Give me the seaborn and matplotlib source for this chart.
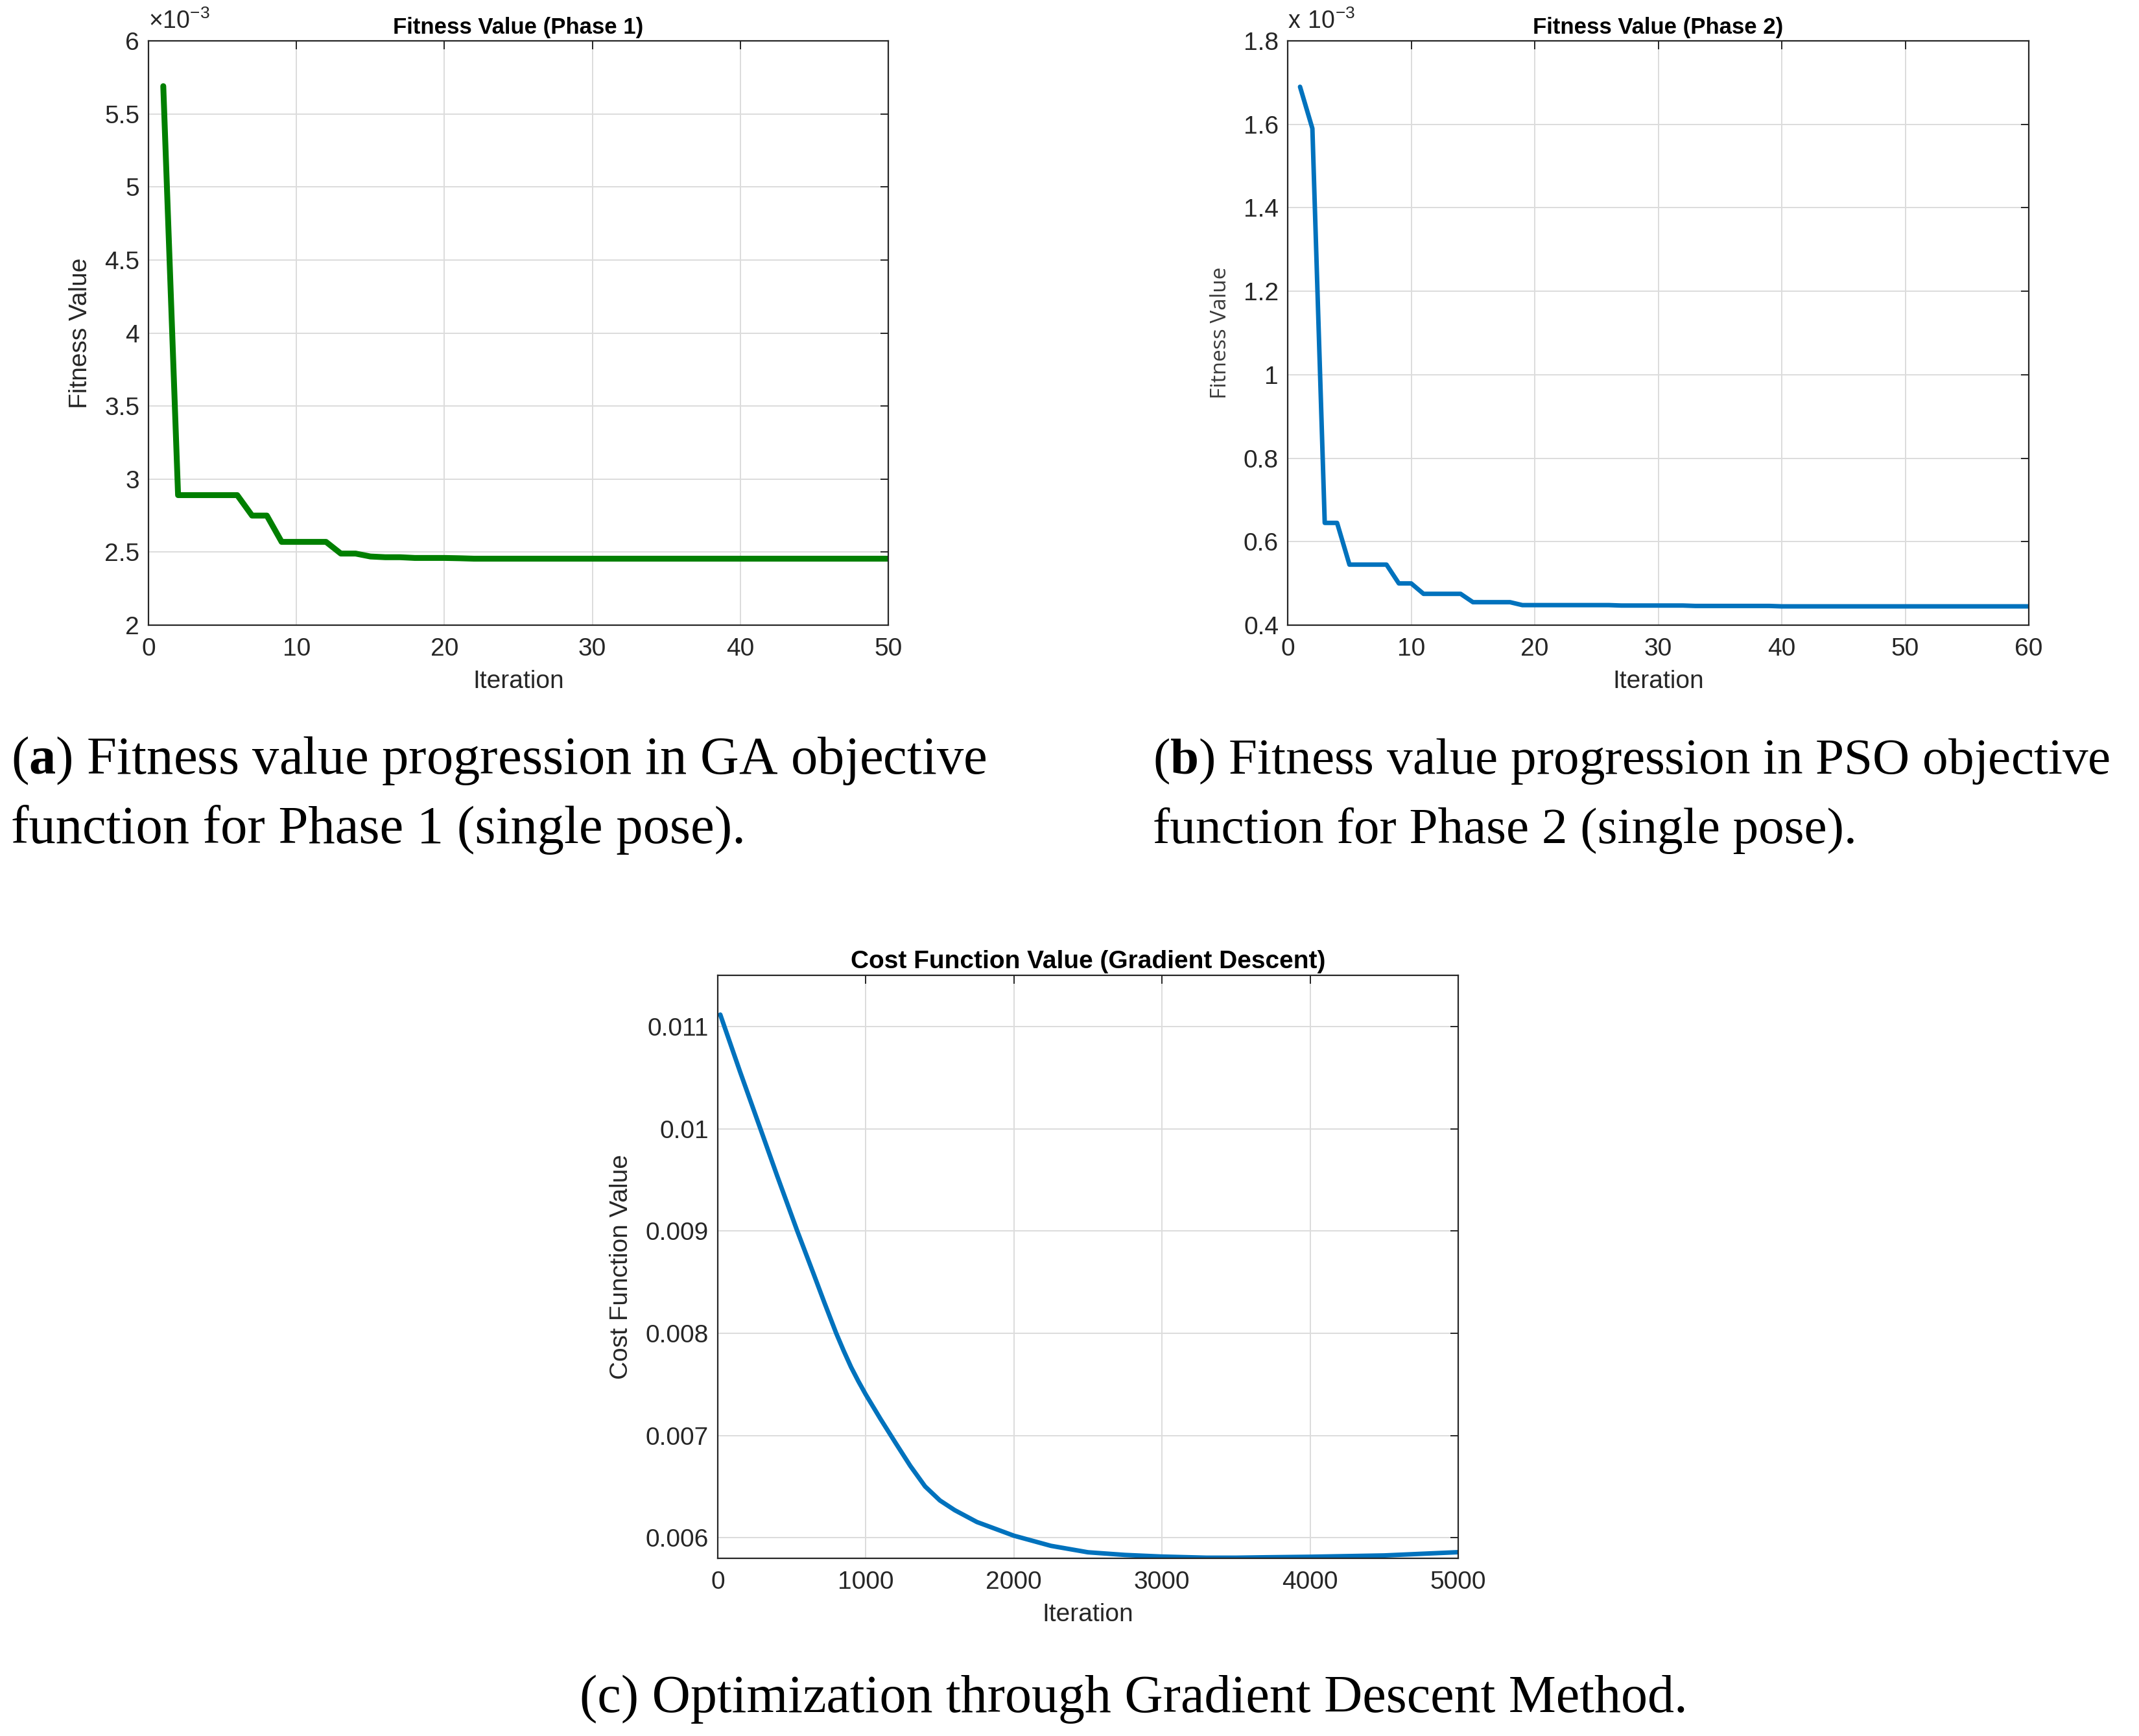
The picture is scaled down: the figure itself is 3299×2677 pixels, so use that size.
import matplotlib
matplotlib.use("Agg")
import matplotlib.pyplot as plt
import seaborn as sns

# (a) GA, phase 1 -- fitness in units of 1e-3
ga_iter = list(range(1, 51))
ga_fit = [5.69, 2.89, 2.89, 2.89, 2.89, 2.89, 2.75, 2.75, 2.57, 2.57,
          2.57, 2.57, 2.49, 2.49, 2.47, 2.465, 2.465, 2.46, 2.46, 2.46,
          2.458, 2.455, 2.455, 2.455, 2.455, 2.455, 2.455, 2.455, 2.455, 2.455,
          2.455, 2.455, 2.455, 2.455, 2.455, 2.455, 2.455, 2.455, 2.455, 2.455,
          2.455, 2.455, 2.455, 2.455, 2.455, 2.455, 2.455, 2.455, 2.455, 2.455]

# (b) PSO, phase 2 -- fitness in units of 1e-3
pso_iter = list(range(1, 61))
pso_fit = [1.69, 1.59, 0.645, 0.645, 0.545, 0.545, 0.545, 0.545, 0.50, 0.50,
           0.475, 0.475, 0.475, 0.475, 0.455, 0.455, 0.455, 0.455, 0.448, 0.448,
           0.448, 0.448, 0.448, 0.448, 0.448, 0.448, 0.447, 0.447, 0.447, 0.447,
           0.447, 0.447, 0.446, 0.446, 0.446, 0.446, 0.446, 0.446, 0.446, 0.445,
           0.445, 0.445, 0.445, 0.445, 0.445, 0.445, 0.445, 0.445, 0.445, 0.445,
           0.445, 0.445, 0.445, 0.445, 0.445, 0.445, 0.445, 0.445, 0.445, 0.445]

# (c) gradient descent cost
gd_iter = [17, 150, 288, 401, 537, 650, 720, 800, 850, 900,
           950, 1000, 1100, 1200, 1300, 1400, 1500, 1600, 1750, 2000,
           2250, 2500, 2750, 3000, 3300, 3500, 3700, 4000, 4500, 5000]
gd_cost = [0.011116, 0.01056, 0.0100, 0.00954, 0.0090, 0.00857, 0.00830, 0.00800, 0.00783, 0.00767,
           0.00753, 0.00740, 0.00716, 0.00693, 0.006704, 0.006503, 0.006366, 0.006271, 0.006155, 0.006021,
           0.005922, 0.005859, 0.005833, 0.005817, 0.005806, 0.005806, 0.00581, 0.005815, 0.005828, 0.00586]

sns.set_theme(style="whitegrid")
plt.rcParams["font.family"] = ["Liberation Sans", "DejaVu Sans"]
plt.rcParams["mathtext.fontset"] = "custom"
plt.rcParams["mathtext.rm"] = "Liberation Serif"
plt.rcParams["mathtext.bf"] = "Liberation Serif:bold"
plt.rcParams["mathtext.sf"] = "Liberation Sans"

W, H = 3299, 2677
fig = plt.figure(figsize=(W / 100, H / 100), dpi=100)
fig.patch.set_facecolor("white")


def box(l, r, t, b):
    return [l / W, 1 - b / H, (r - l) / W, (b - t) / H]


def style(ax, title, ylab, ylab_font=None, title_size=25):
    ax.set_facecolor("white")
    for s in ax.spines.values():
        s.set_color("#262626")
        s.set_linewidth(1.6)
        s.set_visible(True)
    ax.grid(True, color="#dcdcdc", linewidth=1.4)
    ax.tick_params(direction="in", length=9, width=1.4, top=True, right=True,
                   labelsize=28, colors="#262626", pad=10)
    ax.tick_params(axis="x", pad=14)
    ax.set_title(title, fontsize=title_size, fontweight="bold", color="black", pad=8)
    ax.set_xlabel("Iteration", fontsize=28, color="#262626", labelpad=10)
    if ylab_font:
        ax.set_ylabel(ylab, fontsize=24, color="#3a3a3a", family=ylab_font, labelpad=14)
    else:
        ax.set_ylabel(ylab, fontsize=28, color="#262626", labelpad=14)


ax1 = fig.add_axes(box(229, 1370, 63, 964))
sns.lineplot(x=ga_iter, y=ga_fit, ax=ax1, color="#007F00", linewidth=6.5)
ax1.set_xlim(0, 50)
ax1.set_ylim(2, 6)
ax1.set_xticks([0, 10, 20, 30, 40, 50])
ax1.set_yticks([2, 2.5, 3, 3.5, 4, 4.5, 5, 5.5, 6])
ax1.yaxis.set_major_formatter(matplotlib.ticker.FuncFormatter(lambda v, p: "%g" % v))
style(ax1, "Fitness Value (Phase 1)", "Fitness Value", title_size=25)
ax1.text(0.0, 1.012, r"$\mathsf{\times 10^{-3}}$", transform=ax1.transAxes,
         fontsize=27, color="#262626", ha="left", va="bottom")

ax2 = fig.add_axes(box(1986, 3129, 63, 964))
sns.lineplot(x=pso_iter, y=pso_fit, ax=ax2, color="#0072BD", linewidth=5)
ax2.set_xlim(0, 60)
ax2.set_ylim(0.4, 1.8)
ax2.set_xticks([0, 10, 20, 30, 40, 50, 60])
ax2.set_yticks([0.4, 0.6, 0.8, 1.0, 1.2, 1.4, 1.6, 1.8])
ax2.yaxis.set_major_formatter(matplotlib.ticker.FuncFormatter(lambda v, p: "%g" % round(v, 1)))
style(ax2, "Fitness Value (Phase 2)", "Fitness Value", ylab_font="Open Sans", title_size=25)
ax2.text(0.0, 1.012, r"$\mathsf{x\ 10^{-3}}$", transform=ax2.transAxes,
         fontsize=27, color="#262626", ha="left", va="bottom")

ax3 = fig.add_axes(box(1107, 2249, 1504, 2403))
sns.lineplot(x=gd_iter, y=gd_cost, ax=ax3, color="#0072BD", linewidth=5)
ax3.set_xlim(0, 5000)
ax3.set_ylim(0.0058, 0.0115)
ax3.set_xticks([0, 1000, 2000, 3000, 4000, 5000])
ax3.set_yticks([0.006, 0.007, 0.008, 0.009, 0.010, 0.011])
ax3.yaxis.set_major_formatter(matplotlib.ticker.FuncFormatter(lambda v, p: "%g" % round(v, 3)))
style(ax3, "Cost Function Value (Gradient Descent)", "Cost Function Value", title_size=28)

cap = dict(color="black", va="baseline", ha="left", family="Liberation Serif")
fig.text(17 / W, 1 - 1193 / H, r"($\mathbf{a}$) Fitness value progression in GA objective", fontsize=59.5, **cap)
fig.text(17 / W, 1 - 1300 / H, "function for Phase 1 (single pose).", fontsize=59.5, **cap)
fig.text(1778 / W, 1 - 1193 / H, r"($\mathbf{b}$) Fitness value progression in PSO objective", fontsize=57, **cap)
fig.text(1778 / W, 1 - 1300 / H, "function for Phase 2 (single pose).", fontsize=57, **cap)
fig.text(894 / W, 1 - 2640 / H, "(c) Optimization through Gradient Descent Method.", fontsize=59, **cap)

fig.savefig("out.png", dpi=100, facecolor="white")
